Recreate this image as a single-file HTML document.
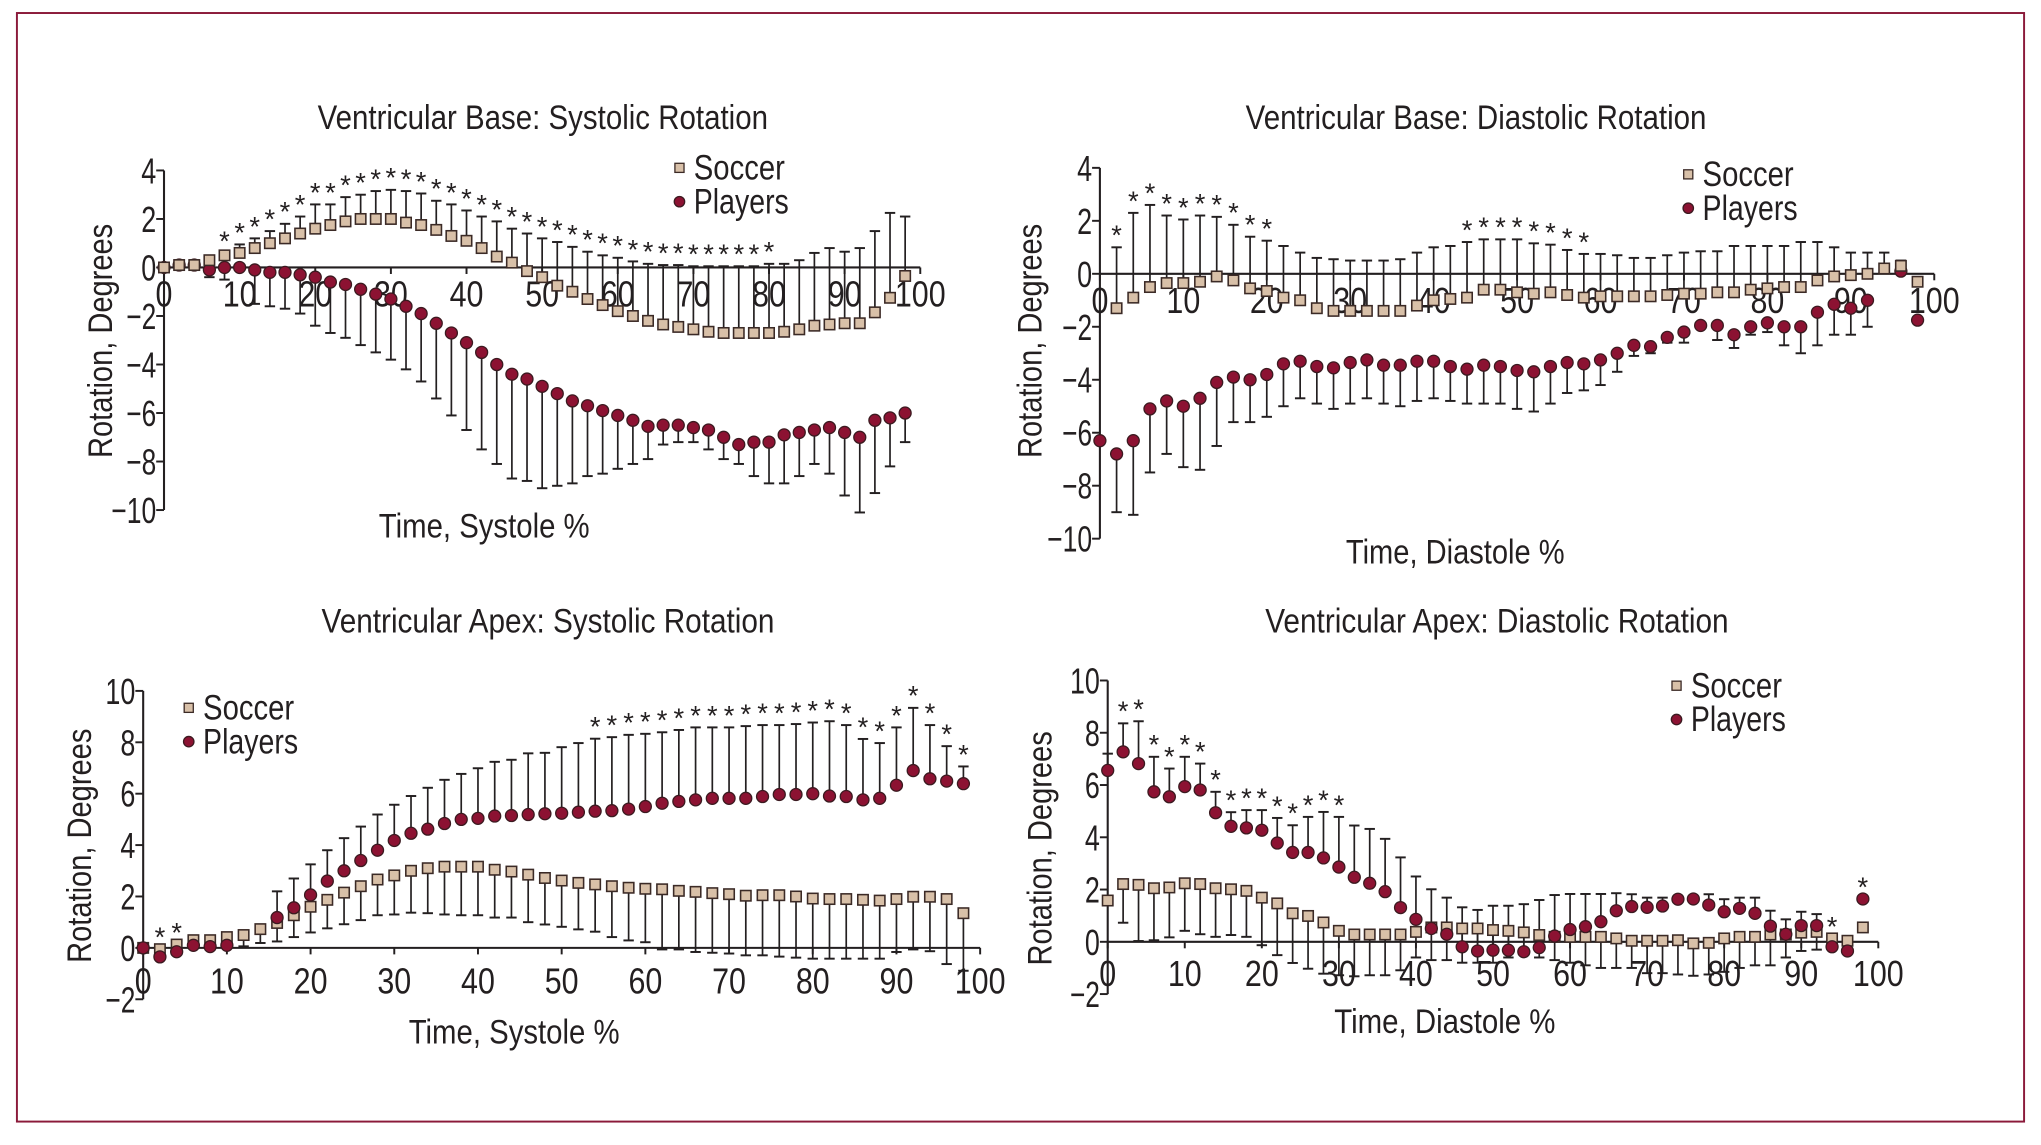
<!DOCTYPE html>
<html><head><meta charset="utf-8"><style>
html,body{margin:0;padding:0;background:#fff;}
svg{display:block;}
text{font-family:"Liberation Sans Narrow","Liberation Sans",sans-serif;fill:#231f20;}
</style></head><body>
<svg id="fig" width="2041" height="1145" viewBox="0 0 1568 880" preserveAspectRatio="none" xmlns="http://www.w3.org/2000/svg">
<rect x="13" y="10" width="1542" height="852" fill="#fff" stroke="#8b1a3a" stroke-width="1.5"/>
</svg>
<script>
// ---- Panel 1: Base systolic ----
const p1Soccer=[0,0.1,0.1,0.3,0.5,0.6,0.8,1.0,1.2,1.4,1.6,1.75,1.9,2.0,2.0,2.0,1.85,1.75,1.55,1.3,1.1,0.8,0.45,0.2,-0.15,-0.4,-0.75,-1.0,-1.3,-1.55,-1.8,-2.0,-2.2,-2.35,-2.45,-2.55,-2.65,-2.7,-2.7,-2.7,-2.7,-2.65,-2.55,-2.4,-2.35,-2.3,-2.3,-1.85,-1.25,-0.35];
const p1SoccerBar=[0,0.3,0.3,0.4,0.6,0.95,1.2,1.5,1.8,2.1,2.6,2.6,2.9,3.0,3.15,3.2,3.15,3.05,2.75,2.6,2.35,2.1,1.9,1.6,1.4,1.2,1.05,0.85,0.65,0.5,0.4,0.25,0.15,0.1,0.1,0.05,0.05,0.05,0.05,0.05,0.15,0.15,0.3,0.6,0.8,0.65,0.8,1.5,2.25,2.1];
const p1Players=[0,0.1,0.1,-0.1,0,0,-0.1,-0.2,-0.2,-0.3,-0.4,-0.6,-0.7,-0.9,-1.1,-1.3,-1.6,-1.9,-2.3,-2.7,-3.1,-3.5,-4.0,-4.4,-4.6,-4.9,-5.2,-5.5,-5.7,-5.9,-6.1,-6.3,-6.55,-6.5,-6.5,-6.6,-6.7,-7.0,-7.3,-7.2,-7.2,-6.9,-6.8,-6.7,-6.6,-6.8,-7.0,-6.3,-6.2,-6.0];
const p1PlayersBar=[0,0,0,-0.4,-0.5,0,-1.5,-1.6,-1.7,-1.9,-2.4,-2.7,-2.9,-3.2,-3.5,-3.8,-4.2,-4.7,-5.4,-6.1,-6.7,-7.5,-8.1,-8.7,-8.8,-9.1,-9.0,-8.9,-8.6,-8.5,-8.3,-8.1,-7.9,-7.3,-7.2,-7.2,-7.5,-7.9,-8.1,-8.6,-8.9,-8.9,-8.6,-8.1,-8.5,-9.4,-10.1,-9.3,-8.2,-7.2];
const p1Stars=[4,5,6,7,8,9,10,11,12,13,14,15,16,17,18,19,20,21,22,23,24,25,26,27,28,29,30,31,32,33,34,35,36,37,38,39,40];
const p1YTicks=["4","2","0","−2","−4","−6","−8","−10"];
// ---- Panel 2: Base diastolic ----
const p2Soccer=[null,-1.3,-0.9,-0.5,-0.35,-0.35,-0.3,-0.1,-0.25,-0.55,-0.65,-0.9,-1.0,-1.3,-1.4,-1.4,-1.4,-1.4,-1.4,-1.2,-1.0,-0.95,-0.9,-0.6,-0.6,-0.7,-0.75,-0.7,-0.8,-0.9,-0.85,-0.85,-0.85,-0.85,-0.8,-0.75,-0.75,-0.7,-0.7,-0.6,-0.55,-0.5,-0.5,-0.25,-0.1,-0.05,0.0,0.2,0.3,-0.3];
const p2SoccerBar=[null,1.0,2.3,2.6,2.2,2.05,2.2,2.15,1.85,1.4,1.25,1.05,0.8,0.6,0.55,0.5,0.5,0.5,0.55,0.8,1.0,1.05,1.2,1.3,1.3,1.3,1.15,1.1,0.9,0.75,0.75,0.7,0.6,0.6,0.7,0.8,0.85,0.85,1.05,1.05,1.05,1.05,1.2,1.2,1.0,0.8,0.8,0.8,0.5,null];
const p2Players=[-6.3,-6.8,-6.3,-5.1,-4.8,-5.0,-4.7,-4.1,-3.9,-4.0,-3.8,-3.4,-3.3,-3.5,-3.55,-3.35,-3.25,-3.45,-3.45,-3.3,-3.3,-3.5,-3.6,-3.45,-3.5,-3.65,-3.7,-3.5,-3.35,-3.4,-3.25,-3.0,-2.7,-2.75,-2.4,-2.2,-1.95,-1.95,-2.3,-2.0,-1.85,-2.0,-2.0,-1.45,-1.15,-1.3,-1.0,null,0.1,-1.75];
const p2PlayersBar=[-6.3,-9.0,-9.1,-7.5,-6.8,-7.3,-7.4,-6.5,-5.6,-5.6,-5.4,-5.0,-4.7,-4.9,-5.1,-4.9,-4.7,-4.9,-5.0,-4.8,-4.7,-4.8,-4.9,-4.9,-4.9,-5.1,-5.2,-4.9,-4.5,-4.4,-4.2,-3.7,-3.1,-3.0,-2.6,-2.6,-2.0,-2.5,-2.8,-2.3,-2.2,-2.7,-3.0,-2.7,-2.3,-2.3,-2.0,null,0.1,-1.75];
const p2Stars=[1,2,3,4,5,6,7,8,9,10,22,23,24,25,26,27,28,29];
const p2YTicks=["4","2","0","−2","−4","−6","−8","−10"];
// ---- Panel 3: Apex systolic ----
const p3Soccer=[0,-0.05,0.13,0.3,0.3,0.42,0.5,0.73,0.97,1.27,1.6,1.87,2.15,2.4,2.66,2.82,3.0,3.1,3.16,3.16,3.16,3.04,2.97,2.85,2.72,2.62,2.53,2.47,2.4,2.34,2.3,2.28,2.22,2.18,2.13,2.09,2.03,2.05,2.05,2.0,1.92,1.9,1.9,1.87,1.84,1.9,1.99,1.99,1.9,1.35];
const p3SoccerBar=[0,-0.1,0,0,0,0,0.06,0.19,0.25,0.42,0.6,0.76,0.92,1.08,1.27,1.3,1.37,1.35,1.3,1.27,1.27,1.18,1.18,1.0,0.91,0.82,0.72,0.63,0.42,0.29,0.22,-0.06,-0.06,-0.16,-0.19,-0.22,-0.29,-0.29,-0.34,-0.38,-0.42,-0.42,-0.42,-0.42,-0.42,-0.16,-0.06,-0.13,-0.63,-0.89];
const p3Players=[0,-0.35,-0.15,0.1,0.05,0.1,null,null,1.18,1.56,2.06,2.6,3.0,3.4,3.8,4.18,4.46,4.62,4.84,5.0,5.04,5.13,5.15,5.19,5.22,5.24,5.28,5.32,5.34,5.4,5.5,5.63,5.7,5.76,5.82,5.82,5.82,5.89,5.97,5.97,6.0,5.91,5.89,5.76,5.82,6.33,6.9,6.58,6.49,6.39];
const p3PlayersBar=[0,-0.35,-0.15,0.1,0.05,0.1,null,null,2.2,2.7,3.25,3.8,4.27,4.72,5.19,5.57,5.91,6.23,6.54,6.77,6.99,7.24,7.32,7.57,7.59,7.81,7.97,8.14,8.2,8.29,8.33,8.39,8.48,8.58,8.58,8.58,8.63,8.67,8.67,8.71,8.77,8.82,8.67,8.13,7.97,8.58,9.34,8.67,7.85,7.06];
const p3Stars=[1,2,27,28,29,30,31,32,33,34,35,36,37,38,39,40,41,42,43,44,45,46,47,48,49];
const p3YTicks=["10","8","6","4","2","0","−2"];
// ---- Panel 4: Apex diastolic ----
const p4Soccer=[1.58,2.21,2.18,2.05,2.08,2.24,2.21,2.05,2.01,1.95,1.69,1.47,1.09,0.99,0.74,0.42,0.28,0.28,0.28,0.28,0.38,0.55,0.55,0.51,0.51,0.45,0.42,0.36,0.26,0.19,0.19,0.19,0.19,0.13,0.04,0.04,0.04,0.06,-0.06,-0.04,0.13,0.19,0.19,0.28,0.28,0.35,0.38,0.13,0.04,0.55];
const p4SoccerBar=[1.58,0.73,0.03,0.06,0.17,0.42,0.29,0.19,0.26,0.19,-0.13,-0.51,-0.81,-1.03,-1.22,-1.28,-1.32,-1.28,-1.28,-1.09,-0.6,-0.7,-0.7,-0.8,-0.8,-0.8,-0.6,-0.4,-0.6,-0.7,-0.8,-0.9,-1.0,-1.0,-1.0,-1.2,-1.2,-1.25,-1.3,-1.25,-1.15,-1.0,-0.9,-0.9,-0.6,-0.35,-0.3,null,null,null];
const p4Players=[6.56,7.27,6.82,5.74,5.55,5.94,5.81,4.94,4.42,4.36,4.27,3.78,3.42,3.42,3.21,2.86,2.47,2.24,1.92,1.31,0.86,0.51,0.29,-0.19,-0.35,-0.32,-0.32,-0.38,-0.22,0.22,0.47,0.58,0.77,1.19,1.35,1.32,1.37,1.63,1.64,1.41,1.15,1.28,1.09,0.6,0.29,0.62,0.62,-0.19,-0.35,1.64];
const p4PlayersBar=[7.2,8.36,8.44,7.08,6.63,7.08,6.82,5.74,4.96,5.04,5.04,4.74,4.46,4.78,4.97,4.78,4.45,4.32,3.94,3.23,2.5,2.01,1.69,1.32,1.22,1.38,1.38,1.44,1.6,1.79,1.83,1.83,1.83,1.86,1.82,1.69,1.69,1.71,1.73,1.82,1.63,1.69,1.69,1.19,0.86,1.15,1.06,null,null,null];
const p4Stars=[1,2,3,4,5,6,7,8,9,10,11,12,13,14,15,47,49];
const p4YTicks=["10","8","6","4","2","0","−2"];
const xTicks=["0","10","20","30","40","50","60","70","80","90","100"];

const NS="http://www.w3.org/2000/svg";
const svg=document.getElementById('fig');
function mk(tag,attrs,parent){const e=document.createElementNS(NS,tag);for(const k in attrs)e.setAttribute(k,attrs[k]);(parent||svg).appendChild(e);return e;}

function panel(cfg){
  const g=mk('g',{});
  
  
  const sx=v=>cfg.x0+(cfg.x1-cfg.x0)*v/100;
  const sy=v=>cfg.yA+(v-cfg.vA)*(cfg.yB-cfg.yA)/(cfg.vB-cfg.vA);
  const t=mk('text',{x:cfg.tx,y:cfg.ty,'font-size':26,'text-anchor':'middle',textLength:cfg.tw,lengthAdjust:'spacingAndGlyphs'},g);
  t.textContent=cfg.title;
  
  
  const yTop=sy(cfg.vA), yBot=sy(cfg.vB);
  const ya=mk('line',{x1:cfg.x0,x2:cfg.x0,y1:yTop,y2:yBot,stroke:'#231f20','stroke-width':1.6},g);
  
  
  cfg.yTicks.forEach((lab,i)=>{
    const v=cfg.vA-2*i, y=sy(v);
    mk('line',{x1:cfg.x0-6,x2:cfg.x0,y1:y,y2:y,stroke:'#231f20','stroke-width':1.5},g);
    const tt=mk('text',{x:cfg.x0-6,y:y+10,'font-size':28,'text-anchor':'end',textLength:lab.length*11.5,lengthAdjust:'spacingAndGlyphs'},g);
    tt.textContent=lab;
    
    
  });
  const y0=sy(0);
  const xa=mk('line',{x1:cfg.x0,x2:sx(100),y1:y0,y2:y0,stroke:'#231f20','stroke-width':1.6},g);
  
  
  xTicks.forEach((lab,i)=>{
    const x=sx(i*10);
    mk('line',{x1:x,x2:x,y1:y0,y2:y0+5,stroke:'#231f20','stroke-width':1.5},g);
    const tt=mk('text',{x:x,y:y0+cfg.xlo,'font-size':28,'text-anchor':'middle',textLength:lab.length*13,lengthAdjust:'spacingAndGlyphs'},g);
    tt.textContent=lab;
    
    
  });
  const yl=mk('text',{x:0,y:0,'font-size':26,'text-anchor':'middle',transform:`translate(${cfg.ylx},${cfg.yly}) rotate(-90)`,textLength:180,lengthAdjust:'spacingAndGlyphs'},g);
  yl.textContent='Rotation, Degrees';
  
  
  const xl=mk('text',{x:cfg.xlx,y:cfg.xly,'font-size':26,'text-anchor':'middle',textLength:cfg.xlw,lengthAdjust:'spacingAndGlyphs'},g);
  xl.textContent=cfg.xlabel;
  
  
  function bars(mean,bar,nm){
    mean.forEach((m,i)=>{
      const b=bar[i]; if(m===null||b===null||b===m)return;
      const x=sx(2*i);
      const l=mk('line',{x1:x,x2:x,y1:sy(m),y2:sy(b),stroke:'#231f20','stroke-width':1.3},g);
      
      
      mk('line',{x1:x-4,x2:x+4,y1:sy(b),y2:sy(b),stroke:'#231f20','stroke-width':1.5},g);
    });
  }
  bars(cfg.soccer,cfg.soccerBar,'soccer');
  bars(cfg.players,cfg.playersBar,'players');
  function soccerMarks(){cfg.soccer.forEach((m,i)=>{ if(m===null)return;
    const r=mk('rect',{x:sx(2*i)-4,y:sy(m)-4,width:8,height:8,fill:'#d8c0a8',stroke:'#3b2a26','stroke-width':1.2},g);
    
    
  });}
  function playerMarks(){cfg.players.forEach((m,i)=>{ if(m===null)return;
    const c=mk('circle',{cx:sx(2*i),cy:sy(m),r:4.6,fill:'#8c1232',stroke:'#3b1a20','stroke-width':1},g);
    
    
  });}
  if(cfg.soccerFirst){soccerMarks();playerMarks();}else{playerMarks();soccerMarks();}
  cfg.stars.forEach(i=>{
    const vals=[cfg.soccer[i],cfg.soccerBar[i],cfg.players[i],cfg.playersBar[i]].filter(v=>v!==null);
    const top=Math.max(...vals);
    const s=mk('text',{x:sx(2*i),y:sy(top)-2,'font-size':21,'text-anchor':'middle'},g);
    s.textContent='*';
    
    
  });
  const lg=mk('g',{},g);
  
  
  mk('rect',{x:cfg.lx-3.5,y:cfg.ly-3.5,width:7,height:7,fill:'#d8c0a8',stroke:'#3b2a26','stroke-width':1},lg);
  const l1=mk('text',{x:cfg.lx+11,y:cfg.ly+9,'font-size':27,textLength:70,lengthAdjust:'spacingAndGlyphs'},lg);
  l1.textContent='Soccer';
  
  
  mk('circle',{cx:cfg.lx,cy:cfg.ly+26,r:4,fill:'#8c1232',stroke:'#3b1a20','stroke-width':1},lg);
  const l2=mk('text',{x:cfg.lx+11,y:cfg.ly+35,'font-size':27,textLength:73,lengthAdjust:'spacingAndGlyphs'},lg);
  l2.textContent='Players';
  
  
}

panel({name:'base-systolic-chart',title:'Ventricular Base: Systolic Rotation',tx:417,ty:99,tw:346,
  x0:126,x1:707,vA:4,yA:131,vB:-10,yB:392,yTicks:p1YTicks,xlo:30,
  ylx:86,yly:262,xlx:372,xly:413,xlw:162,xlabel:'Time, Systole %',
  soccer:p1Soccer,soccerBar:p1SoccerBar,players:p1Players,playersBar:p1PlayersBar,stars:p1Stars,
  lx:522,ly:129,soccerFirst:false});
panel({name:'base-diastolic-chart',title:'Ventricular Base: Diastolic Rotation',tx:1134,ty:99,tw:354,
  x0:845,x1:1486,vA:4,yA:129,vB:-10,yB:414,yTicks:p2YTicks,xlo:30,
  ylx:800,yly:262,xlx:1118,xly:433,xlw:168,xlabel:'Time, Diastole %',
  soccer:p2Soccer,soccerBar:p2SoccerBar,players:p2Players,playersBar:p2PlayersBar,stars:p2Stars,
  lx:1297,ly:134,soccerFirst:false});
panel({name:'apex-systolic-chart',title:'Ventricular Apex: Systolic Rotation',tx:421,ty:486,tw:348,
  x0:110,x1:753,vA:10,yA:531,vB:-2,yB:768,yTicks:p3YTicks,xlo:35,
  ylx:70,yly:650,xlx:395,xly:802,xlw:162,xlabel:'Time, Systole %',
  soccer:p3Soccer,soccerBar:p3SoccerBar,players:p3Players,playersBar:p3PlayersBar,stars:p3Stars,
  lx:145,ly:544,soccerFirst:true});
panel({name:'apex-diastolic-chart',title:'Ventricular Apex: Diastolic Rotation',tx:1150,ty:486,tw:356,
  x0:851,x1:1443,vA:10,yA:523,vB:-2,yB:764,yTicks:p4YTicks,xlo:34,
  ylx:808,yly:652,xlx:1110,xly:794,xlw:170,xlabel:'Time, Diastole %',
  soccer:p4Soccer,soccerBar:p4SoccerBar,players:p4Players,playersBar:p4PlayersBar,stars:p4Stars,
  lx:1288,ly:527,soccerFirst:true});
</script>
</body></html>
